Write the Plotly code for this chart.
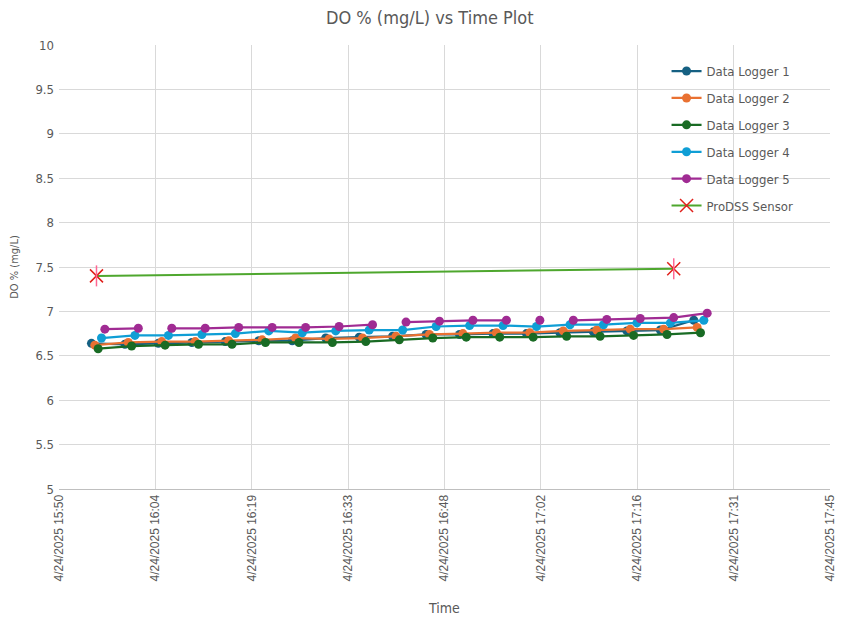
import pandas as pd
import plotly.graph_objects as go

DAY = "2025-04-24 "

# Logger 1 sample clock (5-minute logging interval)
sample_times = [
    "15:55:15", "16:00:15", "16:05:15", "16:10:15", "16:15:15", "16:20:15",
    "16:25:15", "16:30:15", "16:35:15", "16:40:15", "16:45:15", "16:50:15",
    "16:55:15", "17:00:15", "17:05:15", "17:10:15", "17:15:15", "17:20:15",
    "17:25:15",
]
# each logger was started 30 s after the previous one
logger_offsets_s = [0, 30, 60, 90, 120]

logger_names = ["Data Logger 1", "Data Logger 2", "Data Logger 3",
                "Data Logger 4", "Data Logger 5"]
logger_colors = ["#156082", "#E97132", "#196B24", "#0F9ED5", "#A02B93"]

do_logger1 = [6.64, 6.63, 6.64, 6.65, 6.66, 6.67, 6.67, 6.70, 6.71, 6.72,
              6.74, 6.74, 6.75, 6.75, 6.76, 6.77, 6.78, 6.79, 6.90]
do_logger2 = [6.62, 6.65, 6.66, 6.66, 6.67, 6.68, 6.70, 6.69, 6.70, 6.72,
              6.74, 6.75, 6.76, 6.76, 6.78, 6.79, 6.80, 6.80, 6.82]
do_logger3 = [6.58, 6.61, 6.62, 6.63, 6.63, 6.65, 6.65, 6.65, 6.66, 6.68,
              6.70, 6.71, 6.71, 6.71, 6.72, 6.72, 6.73, 6.74, 6.76]
do_logger4 = [6.70, 6.73, 6.73, 6.74, 6.75, 6.78, 6.76, 6.78, 6.79, 6.79,
              6.83, 6.84, 6.84, 6.83, 6.85, 6.85, 6.87, 6.87, 6.90]
do_logger5 = [6.80, 6.81, 6.81, 6.81, 6.82, 6.82, 6.82, 6.83, 6.85, 6.88,
              6.89, 6.90, 6.90, 6.90, 6.90, 6.91, 6.92, 6.93, 6.98]
logger_values = [do_logger1, do_logger2, do_logger3, do_logger4, do_logger5]

# Logger 5 rows followed by a blank cell (line is broken after these samples)
logger5_breaks_after = [1, 8, 12, 13]
logger_breaks = [[], [], [], [], logger5_breaks_after]

prodss_times = ["15:56:00", "17:22:15"]
prodss_values = [7.40, 7.48]

x_ticks_start = DAY + "15:50:24"
x_range_end = DAY + "17:45:36"
tick_step_ms = 14.4 * 60 * 1000  # 0.01 day

TEXT = "#595959"
GRID = "#D9D9D9"
NARROW = "Liberation Sans Narrow, DejaVu Sans Condensed, Arial Narrow, sans-serif"

fig = go.Figure()

for i, (name, color, vals, breaks) in enumerate(
        zip(logger_names, logger_colors, logger_values, logger_breaks)):
    base = pd.to_datetime([DAY + t for t in sample_times])
    times = base + pd.Timedelta(seconds=logger_offsets_s[i])
    xs, ys = [], []
    for k, (t, v) in enumerate(zip(times, vals)):
        xs.append(t)
        ys.append(v)
        if k in breaks and k + 1 < len(times):
            xs.append(t + (times[k + 1] - t) / 2)
            ys.append(None)
    fig.add_trace(go.Scatter(
        x=xs, y=ys, name=name, mode="lines+markers",
        legendgroup=name, connectgaps=False,
        line=dict(color=color, width=2.25),
        marker=dict(color=color, size=9),
    ))

prodss_x = pd.to_datetime([DAY + t for t in prodss_times])
fig.add_trace(go.Scatter(
    x=prodss_x, y=prodss_values, name="ProDSS Sensor", mode="lines+markers",
    legendgroup="ProDSS Sensor",
    line=dict(color="#4EA72E", width=2),
    marker=dict(symbol="x-thin-open", size=13,
                line=dict(color="#E0201B", width=1.5), color="#E0201B"),
))
# vertical stroke completing the star marker
fig.add_trace(go.Scatter(
    x=prodss_x, y=prodss_values, mode="markers", showlegend=False,
    legendgroup="ProDSS Sensor", hoverinfo="skip",
    marker=dict(symbol="line-ns-open", size=15,
                line=dict(color="#E0201B", width=1.5)),
))

fig.update_layout(
    width=846, height=622,
    margin=dict(l=59, r=9, t=45, b=132),
    paper_bgcolor="white", plot_bgcolor="white",
    title=dict(text="DO % (mg/L) vs Time Plot", x=0.508, xanchor="center",
               y=0.972, yanchor="middle",
               font=dict(family=NARROW, size=18, color=TEXT)),
    legend=dict(x=0.788, y=0.975, xanchor="left", yanchor="top",
                bgcolor="rgba(0,0,0,0)", traceorder="grouped",
                tracegroupgap=7, itemwidth=30,
                font=dict(family=NARROW, size=13, color=TEXT)),
    showlegend=True,
)

fig.update_xaxes(
    type="date", range=[x_ticks_start, x_range_end],
    tick0=x_ticks_start, dtick=tick_step_ms,
    tickformat="%-m/%d/%Y %H:%M", tickangle=-90,
    tickfont=dict(family="Liberation Sans, Arial, sans-serif", size=12, color=TEXT),
    showgrid=True, gridcolor=GRID, gridwidth=1,
    showline=True, linecolor="#BFBFBF", linewidth=1,
    zeroline=False, ticks="",
    title=dict(text="Time", font=dict(family=NARROW, size=14, color=TEXT),
               standoff=22),
)
fig.update_yaxes(
    range=[5, 10], dtick=0.5, tick0=5,
    tickfont=dict(family=NARROW, size=13, color=TEXT),
    showgrid=True, gridcolor=GRID, gridwidth=1,
    zeroline=False, ticks="", ticklabelstandoff=4,
    title=dict(text="DO % (mg/L)", font=dict(family=NARROW, size=11, color=TEXT),
               standoff=14),
)

fig.write_html("out.html")
